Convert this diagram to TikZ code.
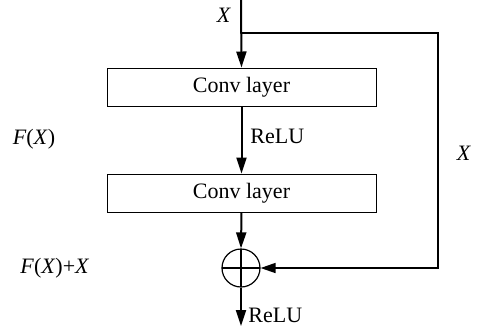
\documentclass[tikz,border=0pt]{standalone}
\usepackage{fontspec}
\setmainfont{Liberation Serif}
\usetikzlibrary{arrows.meta}
\tikzset{
  layerbox/.style={draw, line width=0.5pt, minimum width=134.5pt, minimum height=19pt, inner sep=0pt, font=\fontsize{11}{13}\selectfont},
  sumnode/.style={circle, draw, line width=0.6pt, minimum size=19pt, inner sep=0pt,
    path picture={\draw[line width=0.6pt] (path picture bounding box.west) -- (path picture bounding box.east);
                  \draw[line width=1pt] (path picture bounding box.north) -- (path picture bounding box.south);}},
  mainedge/.style={-{Triangle[length=8pt, width=5pt]}, line width=1pt},
  skipedge/.style={-{Triangle[length=7.5pt, width=5pt]}, line width=0.75pt},
  lbl/.style={font=\fontsize{11}{13}\selectfont, inner sep=0pt}
}

\begin{document}
\begin{tikzpicture}[x=0.5pt, y=-0.5pt]
  \useasboundingbox (0,0) rectangle (478,329);

  \coordinate (in) at (241,0);
  \coordinate (split) at (241,33);
  \node[layerbox] (conv1) at (241.5,87) {Conv layer};
  \node[layerbox] (conv2) at (241.5,193) {Conv layer};
  \node[sumnode] (sum) at (241,268) {};
  \coordinate (out) at (241,326);
  \coordinate (right) at (438,268);

  \draw[mainedge] (in) -- (conv1.north);
  \draw[mainedge] (conv1.south) -- (conv2.north);
  \draw[mainedge] (conv2.south) -- (sum.north);
  \draw[mainedge] (sum.south) -- (out);
  \draw[skipedge] (split) -| (right) -- (sum.east);

  \node[lbl] (xin) at (224,15) {\textit{X}};
  \node[lbl, anchor=west] (relu1) at (250,136) {ReLU};
  \node[lbl, anchor=west] (relu2) at (248,315) {ReLU};
  \node[lbl] (fx) at (34,139) {\textit{F}(\textit{X})};
  \node[lbl] (xskip) at (464,153) {\textit{X}};
  \node[lbl, anchor=west] (fxx) at (20,268) {\textit{F}(\textit{X})+\textit{X}};
\end{tikzpicture}
\end{document}
